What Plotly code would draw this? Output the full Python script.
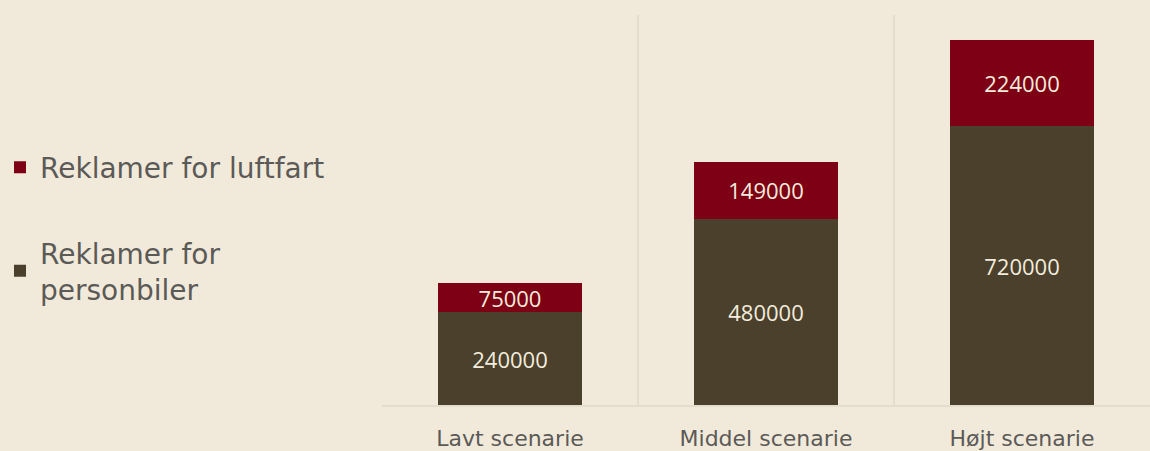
import plotly.graph_objects as go

categories = ["Lavt scenarie", "Middel scenarie", "Højt scenarie"]
personbiler = [240000, 480000, 720000]
luftfart = [75000, 149000, 224000]
name_personbiler = "Reklamer for<br>personbiler"
name_luftfart = "Reklamer for luftfart"
grid_positions = [-0.5, 0.5, 1.5, 2.5]

BG = "#F1EADB"
DARK = "#4A402C"
RED = "#7E0014"
LABEL = "#F3ECDD"
GREY = "#5C5A57"
GRID = "#E4DDCD"

fig = go.Figure()
fig.add_trace(go.Bar(
    x=categories, y=personbiler, name=name_personbiler,
    marker=dict(color=DARK, line=dict(width=0)),
    text=[str(v) for v in personbiler], textposition="inside",
    insidetextanchor="middle", textangle=0, constraintext="none",
    textfont=dict(color=LABEL, size=22, family="Open Sans"),
    legendgroup="a", legendrank=2,
))
fig.add_trace(go.Bar(
    x=categories, y=luftfart, name=name_luftfart,
    marker=dict(color=RED, line=dict(width=0)),
    text=[str(v) for v in luftfart], textposition="inside",
    insidetextanchor="middle", textangle=0, constraintext="none",
    textfont=dict(color=LABEL, size=22, family="Open Sans"),
    legendgroup="b", legendrank=1,
))
# invisible helper trace on overlay axis to draw category-boundary gridlines
fig.add_trace(go.Scatter(x=grid_positions, y=[0] * len(grid_positions),
                         xaxis="x2", mode="markers", marker=dict(opacity=0),
                         showlegend=False, hoverinfo="skip"))

fig.update_layout(
    width=1150, height=451,
    paper_bgcolor=BG, plot_bgcolor=BG,
    barmode="stack", bargap=0.44,
    margin=dict(l=382, r=0, t=15, b=43),
    font=dict(family="Open Sans", color=GREY),
    showlegend=True,
    legend=dict(
        xref="container", yref="container", x=0.0, y=0.684,
        xanchor="left", yanchor="top", traceorder="grouped",
        font=dict(size=28, color=GREY, family="DejaVu Sans"),
        bgcolor="rgba(0,0,0,0)", tracegroupgap=46,
        itemwidth=30,
    ),
    xaxis=dict(
        type="category", range=[-0.5, 2.5],
        showgrid=False, showline=True, linecolor=GRID, linewidth=2,
        ticks="outside", ticklen=13, tickcolor="rgba(0,0,0,0)",
        tickfont=dict(size=22, color=GREY, family="DejaVu Sans"),
        zeroline=False,
    ),
    xaxis2=dict(
        overlaying="x", range=[-0.5, 2.5], tickvals=grid_positions,
        showticklabels=False, showgrid=True, gridcolor=GRID, gridwidth=1.5,
        zeroline=False, showline=False, ticks="",
    ),
    yaxis=dict(range=[0, 1008000], showgrid=False, showticklabels=False,
               zeroline=False, showline=False, ticks=""),
)

fig.write_html(
    "out.html",
    config={"displayModeBar": False},
    post_script="document.body.style.margin='0';document.body.style.background='%s';" % BG,
)
